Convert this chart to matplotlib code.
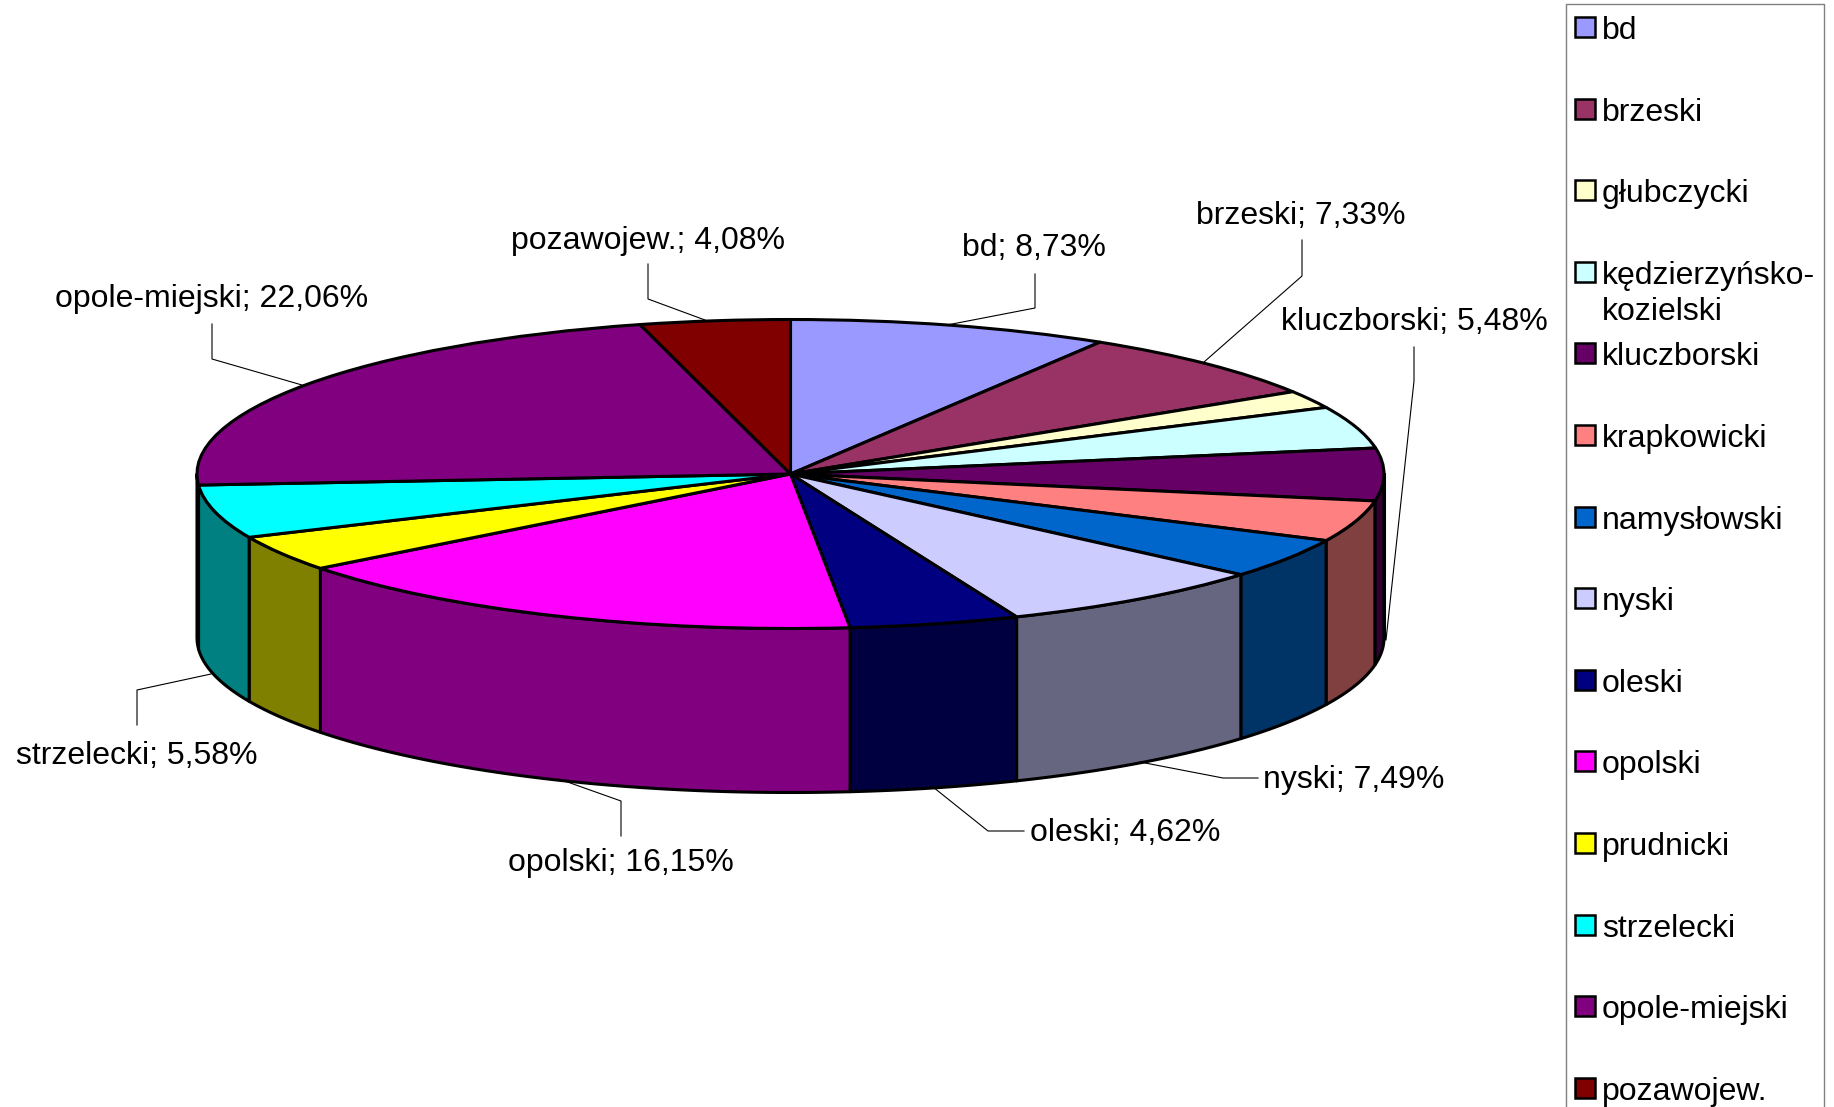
import numpy as np
import matplotlib
matplotlib.use('Agg')
import matplotlib.pyplot as plt

plt.rcParams['font.family'] = ['Liberation Sans', 'DejaVu Sans']

names = ['bd', 'brzeski', 'głubczycki', 'kędzierzyńsko-\nkozielski', 'kluczborski', 'krapkowicki',
         'namysłowski', 'nyski', 'oleski', 'opolski', 'prudnicki', 'strzelecki', 'opole-miejski', 'pozawojew.']
values = [8.73, 7.33, 1.85, 4.40, 5.48, 4.30, 4.20, 7.49, 4.62, 16.15, 3.73, 5.58, 22.06, 4.08]
top_colors = ['#9999FF', '#993366', '#FFFFCC', '#CCFFFF', '#660066', '#FF8080', '#0066CC',
              '#CCCCFF', '#000080', '#FF00FF', '#FFFF00', '#00FFFF', '#800080', '#800000']
wall_colors = ['#4C4C80', '#4C1933', '#808066', '#668080', '#330033', '#804040', '#003366',
               '#666680', '#000040', '#800080', '#808000', '#008080', '#400040', '#400000']

# label text position (px) and leader line (px) for the slices that have a label
labelled = {
    'bd': ((1034, 247.5, 'center'), [(947, 325), (1035, 308), (1035, 274)]),
    'brzeski': ((1301, 215.5, 'center'), [(1204, 362), (1302, 276), (1302, 240)]),
    'kluczborski': ((1414, 322, 'center'), [(1386, 640), (1414, 381), (1414, 347)]),
    'nyski': ((1263, 780, 'left'), [(1140, 762), (1223, 778), (1258, 778)]),
    'oleski': ((1030, 833, 'left'), [(933, 787), (988, 831), (1024, 831)]),
    'opolski': ((621, 863, 'center'), [(559, 779), (621, 801), (621, 836)]),
    'strzelecki': ((137, 756, 'center'), [(211, 674), (137, 690), (137, 725)]),
    'opole-miejski': ((212, 299.5, 'center'), [(302, 385), (212, 359), (212, 324)]),
    'pozawojew.': ((648, 241.5, 'center'), [(705, 320), (648, 299), (648, 264)]),
}

W, H = 1834, 1107
cx, cy, rx, ry, depth = 790.5, 474, 593.5, 154.5, 164

fig = plt.figure(figsize=(W / 100, H / 100), dpi=100)
ax = fig.add_axes([0, 0, 1, 1])

# walls first, the pie lies on top of them
d = depth / ry
edges = 90 - np.cumsum([0] + values) * 3.6
for i in range(len(values)):
    t = np.radians(np.linspace(edges[i + 1], edges[i], 60))
    t = t[np.sin(t) <= 0.0]
    if len(t) < 2:
        continue
    xs = np.concatenate([np.cos(t), np.cos(t[::-1])])
    ys = np.concatenate([np.sin(t), np.sin(t[::-1]) - d])
    ax.fill(xs, ys, facecolor=wall_colors[i], edgecolor='black', linewidth=2.2, joinstyle='round', zorder=1)

# edge of the wall on the far left and far right
ax.plot([-1, -1], [0, -d], color='black', linewidth=2.2, zorder=1.5)
ax.plot([1, 1], [0, -d], color='black', linewidth=2.2, zorder=1.5)

wedges, _ = ax.pie(values, colors=top_colors, startangle=90, counterclock=False,
                   wedgeprops=dict(edgecolor='black', linewidth=2.2, joinstyle='round', zorder=2))

ax.set_aspect('auto')
ax.set_xlim(-cx / rx, (W - cx) / rx)
ax.set_ylim((cy - H) / ry, cy / ry)
ax.axis('off')

# second axes in pixels for labels and legend
ov = fig.add_axes([0, 0, 1, 1])
ov.set_xlim(0, W)
ov.set_ylim(H, 0)
ov.axis('off')
ov.patch.set_alpha(0)

for name, (pos, line) in labelled.items():
    v = values[names.index(name)]
    txt = name + '; ' + f'{v:.2f}'.replace('.', ',') + '%'
    ov.text(pos[0], pos[1], txt, ha=pos[2], va='center', fontsize=23, color='black')
    ov.plot([p[0] for p in line], [p[1] for p in line], color='black', linewidth=0.8, zorder=3)

# legend box, runs off the bottom of the picture
ov.plot([1566, 1566, 1824, 1824], [H + 5, 4, 4, H + 5], color='#808080', linewidth=1.0, clip_on=False)
for i, name in enumerate(names):
    y = 27 + 81.6 * i
    ov.add_patch(plt.Rectangle((1575, y - 10), 20, 20, facecolor=top_colors[i], edgecolor='black',
                               linewidth=1.8, zorder=3))
    for j, part in enumerate(name.split('\n')):
        ov.text(1602, y + 12 + j * 36, part, ha='left', va='baseline', fontsize=23, color='black')

fig.savefig('out.png', dpi=100, facecolor='white')
